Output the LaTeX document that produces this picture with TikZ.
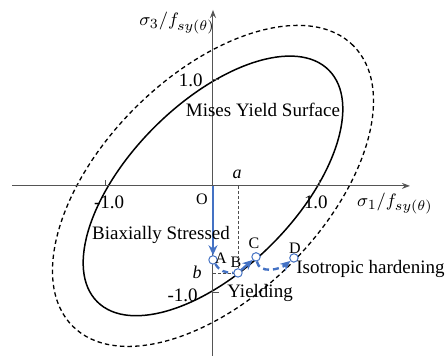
\documentclass[tikz,border=0pt]{standalone}
\usepackage{fontspec}
\setmainfont{Liberation Serif}
\usepackage{tikz}
\usetikzlibrary{arrows.meta, positioning}
\definecolor{pathblue}{RGB}{68,114,196}
\definecolor{axisgray}{RGB}{85,85,85}

\begin{document}
\begin{tikzpicture}[x=1.845cm, y=1.845cm,
  every node/.style={font=\fontsize{9.5}{11}\selectfont},
  axis/.style={color=axisgray, line width=0.5pt, -{Stealth[length=4pt, width=3pt]}},
  surface/.style={black, line width=0.75pt},
  hardened/.style={black, line width=0.65pt, dash pattern=on 2.2pt off 1.6pt},
  guide/.style={black!70, line width=0.35pt, dash pattern=on 1.5pt off 1pt},
  state/.style={circle, draw=pathblue, fill=white, line width=0.5pt,
                inner sep=0pt, minimum size=4.2pt},
  ptlabel/.style={font=\fontsize{8}{9}\selectfont, inner sep=0pt},
  ticklabel/.style={font=\fontsize{9.5}{10}\selectfont, inner sep=0pt},
  load/.style={pathblue, line width=1.2pt, -{Stealth[length=5pt, width=4.5pt]}},
  loaddash/.style={load, dash pattern=on 3pt off 2pt},
]
\useasboundingbox (-2.029,-1.619) rectangle (2.210,1.771);

% ── Yield surfaces ──
\draw[surface, rotate=45]  (0,0) ellipse (1.56 and 0.79);
\draw[hardened, rotate=45] (0,0) ellipse (1.89 and 1.05);

% ── Axes ──
\coordinate (xs) at (-1.914,0); \coordinate (xe) at (1.876,0);
\coordinate (ys) at (0,-1.619); \coordinate (ye) at (0,1.676);
\draw[axis] (xs) -- (xe);
\draw[axis] (ys) -- (ye);
\foreach \t in {-1.02,1.01} \draw[axisgray, line width=0.5pt] (\t,0) -- ++(0,0.06);
\foreach \t in {-1.02,1.01} \draw[axisgray, line width=0.5pt] (0,\t) -- ++(0.06,0);

\node[ticklabel] (xm) at (-0.99,-0.152) {-1.0};
\node[ticklabel] (xp) at (0.98,-0.152) {1.0};
\node[ticklabel, anchor=east] (yp) at (-0.095,1.01) {1.0};
\node[ticklabel, anchor=east] (ym) at (-0.143,-1.04) {-1.0};
\node[inner sep=0pt] (xlab) at (1.733,-0.17) {$\sigma_1/f_{sy(\theta)}$};
\node[inner sep=0pt] (ylab) at (-0.343,1.552) {$\sigma_3/f_{sy(\theta)}$};

% ── Loading path ──
\coordinate (O) at (0,0);
\node[ptlabel] (olab) at (-0.105,-0.124) {O};
\node[state] (A) at (0,-0.705) {};
\node[state] (B) at (0.238,-0.829) {};
\node[state] (C) at (0.41,-0.676) {};
\node[state] (D) at (0.771,-0.686) {};
\node[ptlabel] (alab) at (0.075,-0.69) {A};
\node[ptlabel] (blab) at (0.219,-0.728) {B};
\node[ptlabel] (clab) at (0.39,-0.543) {C};
\node[ptlabel] (dlab) at (0.781,-0.59) {D};

\coordinate (a) at (0.238,0);
\coordinate (b) at (0,-0.829);
\draw[guide] (a) -- (B);
\draw[guide] (b) -- (B);
\node[inner sep=0pt, font=\fontsize{9}{10}\selectfont\itshape] (alabel) at (0.229,0.114) {a};
\node[inner sep=0pt, font=\fontsize{9}{10}\selectfont\itshape] (blabel) at (-0.152,-0.819) {b};

\draw[load] (O) -- (A);
\draw[loaddash, -] (A) to[out=-60, in=180] (B);
\draw[load] (B) -- (C);
\draw[loaddash] (C) to[out=-80, in=-140] (D);

% ── Texts ──
\node[inner sep=0pt] (mises) at (0.476,0.724) {Mises Yield Surface};
\node[inner sep=0pt] (biax) at (-0.495,-0.467) {Biaxially Stressed};
\node[inner sep=0pt] (yield) at (0.448,-1.019) {Yielding};
\node[inner sep=0pt, anchor=west] (iso) at (0.79,-0.79) {Isotropic hardening};

\end{tikzpicture}
\end{document}
